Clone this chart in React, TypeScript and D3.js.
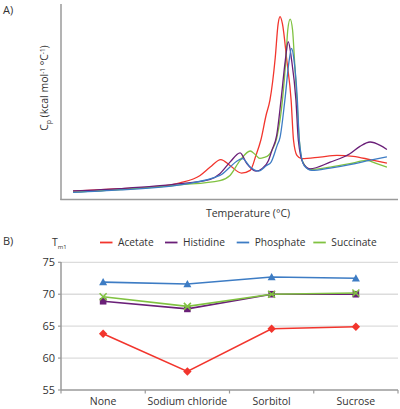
import React from 'react';
import * as d3 from 'd3';

const W = 400;
const H = 409;

// ---- Panel A: DSC thermograms (temperature °C, Cp arbitrary units) ----
const dscAcetate: [number, number][] = [
  [27.5, 4.3], [37.3, 5.5], [45.6, 6.7], [49.7, 8.5], [53.9, 12.3], [56.0, 16.6], [58.2, 20.4],
  [60.1, 17.4], [62.5, 13.5], [64.3, 14.9], [65.5, 22.6], [66.5, 30.3], [67.6, 43.1], [68.4, 50.8],
  [69.5, 72.5], [70.1, 89.8], [70.5, 93.5], [71.0, 89.8], [71.9, 71.3], [72.8, 50.8], [73.3, 30.3],
  [74.0, 22.6], [75.0, 20.9], [78.8, 21.7], [82.3, 22.6], [85.7, 22.1], [89.2, 20.4], [92.7, 18.6],
];
const dscHistidine: [number, number][] = [
  [27.5, 4.4], [37.3, 5.6], [49.7, 8.1], [56.0, 10.3], [58.0, 13.2], [60.1, 19.1], [62.2, 23.9],
  [63.6, 18.3], [65.5, 14.5], [66.8, 15.9], [68.1, 20.0], [68.8, 25.1], [69.8, 32.8], [70.7, 50.8],
  [71.6, 71.3], [72.2, 80.7], [72.9, 71.3], [73.8, 50.8], [74.3, 30.3], [75.3, 18.5], [76.7, 15.7],
  [80.9, 19.1], [85.0, 23.4], [87.1, 27.2], [89.2, 29.4], [91.3, 27.7], [92.7, 25.6],
];
const dscPhosphate: [number, number][] = [
  [27.5, 3.6], [37.3, 4.9], [49.7, 7.5], [58.0, 12.3], [60.1, 16.6], [61.5, 19.6], [62.7, 20.9],
  [64.3, 16.6], [66.0, 14.5], [67.7, 17.4], [68.6, 19.0], [69.9, 27.7], [70.5, 31.8], [71.5, 50.8],
  [72.4, 71.3], [72.9, 77.3], [73.4, 71.3], [74.1, 50.8], [74.5, 30.3], [75.5, 17.4], [77.1, 14.9],
  [80.9, 16.1], [85.0, 17.8], [88.5, 19.7], [92.7, 21.8],
];
const dscSuccinate: [number, number][] = [
  [27.5, 3.8], [37.3, 5.1], [49.7, 7.5], [58.0, 9.7], [60.1, 12.3], [62.2, 20.0], [64.3, 24.8],
  [65.3, 23.1], [66.3, 21.0], [67.2, 21.5], [68.1, 22.6], [68.8, 25.1], [69.8, 31.3], [71.0, 50.8],
  [71.7, 71.3], [72.1, 86.7], [72.6, 92.3], [73.1, 86.7], [73.5, 71.3], [74.0, 50.8], [74.5, 30.3],
  [75.1, 20.0], [76.7, 15.4], [80.9, 16.6], [85.0, 18.3], [88.5, 20.0], [90.6, 18.3], [92.7, 16.6],
];

// ---- Panel B: Tm1 by additive ----
const categories = ['None', 'Sodium chloride', 'Sorbitol', 'Sucrose'];
const tmAcetate = [63.8, 57.9, 64.6, 64.9];
const tmHistidine = [68.9, 67.7, 70.0, 70.0];
const tmPhosphate = [71.9, 71.6, 72.7, 72.5];
const tmSuccinate = [69.6, 68.1, 70.0, 70.2];
const yTicks = [55, 60, 65, 70, 75];

const seriesNames = ['Acetate', 'Histidine', 'Phosphate', 'Succinate'];
const seriesColors = ['#f2352d', '#6a1f78', '#3d7cc4', '#80c241'];
const markerTypes = ['diamond', 'square', 'triangle', 'x'];

const FONT = '"Open Sans", "Noto Sans", sans-serif';
const TEXT = '#333333';
const AXIS = '#9a9a9a';

function Marker({ type, x, y, color }: { type: string; x: number; y: number; color: string }) {
  if (type === 'diamond') {
    const s = 4.2;
    return <path d={`M${x},${y - s}L${x + s},${y}L${x},${y + s}L${x - s},${y}Z`} fill={color} />;
  }
  if (type === 'square') {
    const s = 3.3;
    return <rect x={x - s} y={y - s} width={2 * s} height={2 * s} fill={color} />;
  }
  if (type === 'triangle') {
    const s = 4;
    return <path d={`M${x},${y - s}L${x + s},${y + s * 0.8}L${x - s},${y + s * 0.8}Z`} fill={color} />;
  }
  const s = 3.5;
  return (
    <path
      d={`M${x - s},${y - s}L${x + s},${y + s}M${x - s},${y + s}L${x + s},${y - s}`}
      stroke={color}
      strokeWidth={1.6}
      fill="none"
    />
  );
}

export default function App() {
  // Panel A scales
  const xT = d3.scaleLinear().domain([25, 95]).range([61, 398]);
  const yC = d3.scaleLinear().domain([0, 100]).range([199.5, 4]);
  const line = d3
    .line<[number, number]>()
    .x((d) => xT(d[0]))
    .y((d) => yC(d[1]))
    .curve(d3.curveMonotoneX);
  const dsc = [dscAcetate, dscHistidine, dscPhosphate, dscSuccinate];
  const dscOrder = [0, 3, 1, 2];

  // Panel B scales
  const xB = d3.scaleBand().domain(categories).range([61, 398]);
  const yB = d3.scaleLinear().domain([55, 75]).range([390, 262.3]);
  const tm = [tmAcetate, tmHistidine, tmPhosphate, tmSuccinate];
  const cx = (c: string) => (xB(c) as number) + xB.bandwidth() / 2;
  const tmLine = d3
    .line<number>()
    .x((_, i) => cx(categories[i]))
    .y((d) => yB(d));

  const legendX = [100, 165, 236.7, 313.3];
  const bandEdges = categories.map((c) => xB(c) as number).concat([398]);

  return (
    <svg
      width={W}
      height={H}
      style={{ position: 'absolute', left: 0, top: 0, background: '#fff' }}
      fontFamily={FONT}
    >
      {/* Panel A */}
      <text x={3} y={14} fontSize={11} fill={TEXT}>A)</text>
      <line x1={61} x2={61} y1={4} y2={200} stroke={AXIS} strokeWidth={1.5} />
      <line x1={60.3} x2={398} y1={199.5} y2={199.5} stroke={AXIS} strokeWidth={1.5} />
      {dscOrder.map((i) => (
        <path key={i} d={line(dsc[i]) || ''} fill="none" stroke={seriesColors[i]} strokeWidth={1.3} />
      ))}
      <text
        transform="translate(48,88) rotate(-90)"
        textAnchor="middle"
        fontSize={10.5}
        fill={TEXT}
      >
        C<tspan fontSize={6.5} dy={2.5}>p</tspan>
        <tspan dy={-2.5}> (kcal mol</tspan>
        <tspan fontSize={6.5} dy={-3.5}>-1</tspan>
        <tspan dy={3.5}> °C</tspan>
        <tspan fontSize={6.5} dy={-3.5}>-1</tspan>
        <tspan dy={3.5}>)</tspan>
      </text>
      <text x={248} y={217} textAnchor="middle" fontSize={10.5} fill={TEXT}>
        Temperature (°C)
      </text>

      {/* Panel B */}
      <text x={3} y={245} fontSize={11} fill={TEXT}>B)</text>
      <text x={52} y={246} fontSize={10.5} fill={TEXT}>
        T<tspan fontSize={6} dy={2.5}>m1</tspan>
      </text>
      {seriesNames.map((n, i) => (
        <g key={n}>
          <line
            x1={legendX[i]}
            x2={legendX[i] + 12.5}
            y1={242.5}
            y2={242.5}
            stroke={seriesColors[i]}
            strokeWidth={1.8}
          />
          <text x={legendX[i] + 18} y={246.3} fontSize={10.2} fill={TEXT}>
            {n}
          </text>
        </g>
      ))}
      {yTicks.map((t) => (
        <g key={t}>
          {t !== 55 && (
            <line x1={61} x2={398} y1={yB(t)} y2={yB(t)} stroke="#dcdcdc" strokeWidth={1.3} />
          )}
          <line x1={58} x2={61} y1={yB(t)} y2={yB(t)} stroke={AXIS} strokeWidth={1.2} />
          <text x={55} y={yB(t) + 4} textAnchor="end" fontSize={11} fill={TEXT}>
            {t}
          </text>
        </g>
      ))}
      <line x1={61} x2={61} y1={262} y2={390} stroke={AXIS} strokeWidth={1.5} />
      <line x1={61} x2={398} y1={390} y2={390} stroke={AXIS} strokeWidth={1.5} />
      {bandEdges.map((x, i) => (
        <line key={i} x1={x} x2={x} y1={390} y2={393.5} stroke={AXIS} strokeWidth={1.2} />
      ))}
      {categories.map((c) => (
        <text key={c} x={cx(c)} y={405} textAnchor="middle" fontSize={10.5} fill={TEXT}>
          {c}
        </text>
      ))}
      {tm.map((vals, i) => (
        <g key={i}>
          <path d={tmLine(vals) || ''} fill="none" stroke={seriesColors[i]} strokeWidth={1.6} />
          {vals.map((v, j) => (
            <Marker key={j} type={markerTypes[i]} x={cx(categories[j])} y={yB(v)} color={seriesColors[i]} />
          ))}
        </g>
      ))}
    </svg>
  );
}
